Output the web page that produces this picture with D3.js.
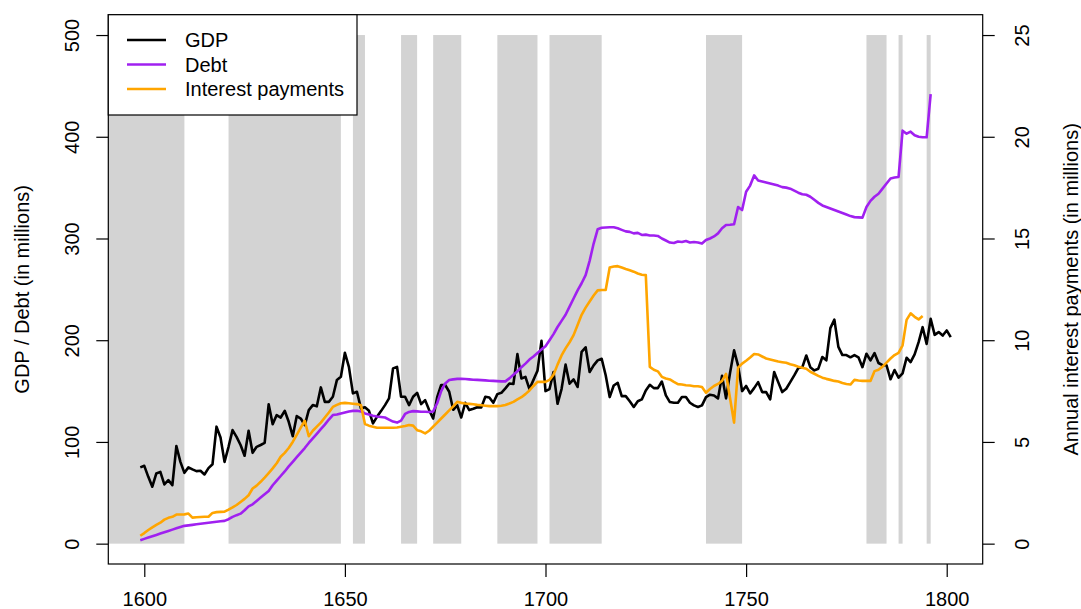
<!DOCTYPE html>
<html>
<head>
<meta charset="utf-8">
<script src="https://cdn.jsdelivr.net/npm/d3@7.9.0/dist/d3.min.js"></script>
<style>
  html, body { margin: 0; padding: 0; background: #fff; }
  svg text { font-family: "Liberation Sans", Arial, sans-serif; fill: #000; }
</style>
</head>
<body>
<svg id="chart" width="1081" height="609"></svg>
<script>
// years start at 1599
const startYear = 1599;

// GDP, millions (1599-1801)
const gdp = [
  75, 76.5, 65.7, 56, 69, 70.6, 58.2, 62.4, 57.5, 96, 80.4, 69.6, 75, 73, 71.3, 71.6, 68, 74.3, 78, 115,
  104.4, 80.4, 95.2, 111.6, 105, 97, 86.4, 111, 89.3, 95.2, 97, 99, 137, 117.5, 126.4, 124, 130.6, 119.8, 105.7, 125.4,
  123, 116.5, 131.3, 136.2, 135, 153.6, 139.4, 139.4, 144.4, 160.8, 164, 187.6, 173.8, 147.7, 149.3, 133, 134, 130.6, 118.2, 124.7,
  130.3, 136.2, 142.8, 172.3, 173.8, 144.4, 144.4, 136.2, 144.4, 148.3, 137.2, 141.1, 131.3, 123, 144, 156, 156, 149.3, 131.6, 136,
  124, 138.5, 131.3, 132.6, 134, 134, 144.4, 143.7, 138.5, 147, 148.3, 152.6, 157.5, 157, 186.3, 162.4, 164, 152, 161, 170,
  199.4, 150, 152, 168.7, 137.5, 152, 176, 157.3, 161.5, 154, 188.6, 193, 168.7, 175.3, 180.2, 181.8, 165.5, 144.1, 155.5, 158.1,
  145, 145, 140, 134.4, 140, 141.8, 150.6, 156.2, 152.9, 152.9, 159.4, 145.7, 139.2, 138.5, 138.5, 144.1, 144.1, 138.5, 135.9, 134.3,
  135.9, 144, 146.4, 145.7, 142.8, 165, 142.8, 168, 190, 175, 150, 155, 147.7, 152.9, 158.8, 149, 149, 141.8, 168.7, 158.8,
  149, 152.3, 158.8, 165.4, 172.6, 173.3, 185, 173.5, 170.3, 172, 183.5, 180.2, 211.9, 220.2, 193.5, 185.4, 185.4, 183.2, 185.4, 183.2,
  173.5, 186.7, 180.2, 187.4, 177.6, 175.4, 175.4, 161.6, 170.7, 163.2, 167.4, 182.8, 178.5, 186, 198.1, 212.8, 196.4, 221, 205.3, 208,
  204.6, 209.6, 203
];

// Debt, millions (1599-1796)
const debt = [
  3.4, 4.7, 6, 7.3, 8.6, 9.9, 11.2, 12.5, 13.8, 15.1, 16.4, 17.5, 18, 18.5, 19, 19.5, 20, 20.5, 21, 21.5,
  22, 22.4, 24, 26.3, 28, 29.5, 32.8, 36.7, 38.7, 42, 45.3, 48.5, 51.8, 57.4, 62, 66.5, 71, 76, 80.5, 85,
  89.5, 94, 99, 103.5, 108, 112.5, 117, 122, 126.4, 127, 128, 129, 130, 130.5, 130.6, 130, 128, 127, 125.8, 125,
  124.5, 124, 122, 120, 119, 121, 127.5, 129.5, 130.3, 130, 129.6, 129.6, 129.4, 130, 138, 150, 157.5, 160.8, 161.5, 162,
  162, 161.8, 161.5, 161.2, 161, 160.8, 160.5, 160.2, 160, 159.8, 159.5, 159.5, 162.5, 166, 169.5, 173.5, 177, 181, 184, 187.5,
  191, 194, 200, 206, 213, 219, 225, 233, 241, 249, 256, 264, 278, 295, 309, 310.5, 310.8, 311, 311, 310,
  308.5, 307, 306.5, 305, 305.5, 303.5, 303.8, 303, 303, 302.5, 300, 298, 296, 295.5, 297, 296.5, 297.5, 296, 296.5, 296,
  295, 298.5, 300, 302, 305, 310, 313.3, 313.5, 314, 331, 328, 346, 352, 362, 357, 356, 355, 354, 353, 352,
  350.5, 350, 349, 347, 345, 343.5, 343, 341, 338, 335, 332.5, 331, 329.5, 328, 326.5, 325, 323.5, 322, 321, 320.8,
  320.5, 331, 337, 341, 344, 349, 354, 359, 360, 360.5, 406, 403, 405, 401.5, 400, 399.5, 399.5, 442
];

// Annual interest payments, millions (1599-1794)
const interest = [
  0.39, 0.52, 0.67, 0.8, 0.92, 1.03, 1.18, 1.27, 1.32, 1.43, 1.43, 1.44, 1.48, 1.28, 1.3, 1.31, 1.32, 1.32, 1.51, 1.55,
  1.56, 1.57, 1.67, 1.78, 1.9, 2.05, 2.2, 2.38, 2.71, 2.85, 3.04, 3.25, 3.47, 3.7, 3.95, 4.27, 4.46, 4.7, 5.0, 5.35,
  5.7, 6.04, 5.28, 5.55, 5.75, 5.95, 6.2, 6.45, 6.72, 6.82, 6.9, 6.92, 6.9, 6.88, 6.86, 6.8, 5.88, 5.8, 5.75, 5.7,
  5.7, 5.7, 5.7, 5.7, 5.71, 5.75, 5.78, 5.83, 5.8, 5.58, 5.52, 5.42, 5.55, 5.75, 5.95, 6.15, 6.35, 6.55, 6.75, 6.97,
  6.92, 6.89, 6.87, 6.85, 6.82, 6.8, 6.78, 6.76, 6.76, 6.76, 6.78, 6.82, 6.89, 6.97, 7.09, 7.2, 7.35, 7.53, 7.75, 7.95,
  7.95, 7.95, 8.05, 8.3, 8.8, 9.25, 9.6, 9.9, 10.25, 10.75, 11.25, 11.6, 11.9, 12.2, 12.45, 12.47, 12.47, 13.57, 13.62, 13.64,
  13.57, 13.5, 13.44, 13.37, 13.28, 13.22, 13.2, 8.69, 8.55, 8.47, 8.2, 8.12, 8.07, 7.95, 7.84, 7.82, 7.79, 7.77, 7.74, 7.74,
  7.7, 7.42, 7.6, 7.75, 7.85, 8.0, 8.35, 7.15, 5.95, 8.65, 8.85, 8.99, 9.15, 9.32, 9.3, 9.2, 9.1, 9.05, 9.0, 8.95,
  8.92, 8.89, 8.82, 8.77, 8.7, 8.65, 8.6, 8.45, 8.35, 8.25, 8.16, 8.1, 8.05, 8.0, 7.97, 7.9, 7.85, 7.82, 8.05, 8.02,
  8.0, 8.0, 8.0, 8.48, 8.55, 8.7, 8.9, 9.1, 9.27, 9.38, 9.75, 11.0, 11.32, 11.15, 11.02, 11.19
];

// war periods (first year, last year), shaded grey
const warStart = [1585, 1621, 1652, 1664, 1672, 1688, 1701, 1740, 1780, 1788, 1795];
const warEnd   = [1609, 1648, 1654, 1667, 1678, 1697, 1713, 1748, 1784, 1788, 1795];

const xTicks = [1600, 1650, 1700, 1750, 1800];
const yTicks = [0, 100, 200, 300, 400, 500];
const y2Ticks = [0, 5, 10, 15, 20, 25];

const seriesNames = ['GDP', 'Debt', 'Interest payments'];
const seriesColors = ['#000000', '#a020f0', '#ffa500'];

// plot region
const plotLeft = 108.3, plotRight = 982.7, plotTop = 14.7, plotBottom = 564;

const svg = d3.select('#chart');

const x = d3.scaleLinear().domain([1591.03, 1808.97]).range([plotLeft, plotRight]);
const y = d3.scaleLinear().domain([-20, 520]).range([plotBottom, plotTop]);
const y2 = d3.scaleLinear().domain([-1, 26]).range([plotBottom, plotTop]);

svg.append('defs').append('clipPath').attr('id', 'plotclip')
  .append('rect')
  .attr('x', plotLeft).attr('y', plotTop)
  .attr('width', plotRight - plotLeft).attr('height', plotBottom - plotTop);

const plot = svg.append('g').attr('clip-path', 'url(#plotclip)');

// war shading
plot.selectAll('rect.war')
  .data(warStart.map((s, i) => ({ s, e: warEnd[i] })))
  .join('rect')
  .attr('class', 'war')
  .attr('x', d => x(d.s))
  .attr('width', d => x(d.e + 1) - x(d.s))
  .attr('y', y(500))
  .attr('height', y(0) - y(500))
  .attr('fill', '#d3d3d3');

const toPoints = (arr) => arr.map((v, i) => ({ yr: startYear + i, v }));

const line = d3.line().x(d => x(d.yr)).y(d => y(d.v));
const line2 = d3.line().x(d => x(d.yr)).y(d => y2(d.v));

plot.append('path').datum(toPoints(gdp))
  .attr('d', line).attr('fill', 'none')
  .attr('stroke', seriesColors[0]).attr('stroke-width', 2.6).attr('stroke-linejoin', 'round');
plot.append('path').datum(toPoints(debt))
  .attr('d', line).attr('fill', 'none')
  .attr('stroke', seriesColors[1]).attr('stroke-width', 2.6).attr('stroke-linejoin', 'round');
plot.append('path').datum(toPoints(interest))
  .attr('d', line2).attr('fill', 'none')
  .attr('stroke', seriesColors[2]).attr('stroke-width', 2.6).attr('stroke-linejoin', 'round');

// axes
const fs = 20;

const xAxis = svg.append('g')
  .attr('transform', `translate(0,${plotBottom})`)
  .call(d3.axisBottom(x).tickValues(xTicks).tickSize(13).tickFormat(d3.format('d')));

const yAxis = svg.append('g')
  .attr('transform', `translate(${plotLeft},0)`)
  .call(d3.axisLeft(y).tickValues(yTicks).tickSize(12));

const y2Axis = svg.append('g')
  .attr('transform', `translate(${plotRight},0)`)
  .call(d3.axisRight(y2).tickValues(y2Ticks).tickSize(12));

[xAxis, yAxis, y2Axis].forEach(g => {
  g.select('.domain').remove();
  g.selectAll('.tick line').attr('stroke', '#000').attr('stroke-width', 1.2);
  g.selectAll('.tick text').attr('font-size', fs).attr('font-family', '"Liberation Sans", Arial, sans-serif');
});

xAxis.selectAll('.tick text').attr('y', 28).attr('dy', '0.71em');

yAxis.selectAll('.tick text')
  .attr('transform', 'rotate(-90)')
  .attr('x', 0).attr('y', -36).attr('dy', '0.35em')
  .attr('text-anchor', 'middle');

y2Axis.selectAll('.tick text')
  .attr('transform', 'rotate(-90)')
  .attr('x', 0).attr('y', 39.5).attr('dy', '0.35em')
  .attr('text-anchor', 'middle');

// box
svg.append('rect')
  .attr('x', plotLeft).attr('y', plotTop)
  .attr('width', plotRight - plotLeft).attr('height', plotBottom - plotTop)
  .attr('fill', 'none').attr('stroke', '#000').attr('stroke-width', 1.2);

// axis titles
const midY = (plotTop + plotBottom) / 2;
svg.append('text')
  .attr('transform', `translate(22,${midY}) rotate(-90)`)
  .attr('text-anchor', 'middle').attr('dy', '0.35em')
  .attr('font-size', fs)
  .text('GDP / Debt (in millions)');

svg.append('text')
  .attr('transform', `translate(1071,${midY}) rotate(-90)`)
  .attr('text-anchor', 'middle').attr('dy', '0.35em')
  .attr('font-size', fs)
  .text('Annual interest payments (in millions)');

// legend
const legend = svg.append('g');
legend.append('rect')
  .attr('x', plotLeft).attr('y', plotTop)
  .attr('width', 357 - plotLeft).attr('height', 115 - plotTop)
  .attr('fill', '#fff').attr('stroke', '#000').attr('stroke-width', 1.2);

const legendRows = legend.selectAll('g.row')
  .data(seriesNames)
  .join('g')
  .attr('class', 'row')
  .attr('transform', (d, i) => `translate(0,${40 + i * 24.5})`);

legendRows.append('line')
  .attr('x1', 127).attr('x2', 166)
  .attr('stroke', (d, i) => seriesColors[i])
  .attr('stroke-width', 2.6);

legendRows.append('text')
  .attr('x', 185).attr('dy', '0.35em')
  .attr('font-size', fs)
  .text(d => d);
</script>
</body>
</html>
